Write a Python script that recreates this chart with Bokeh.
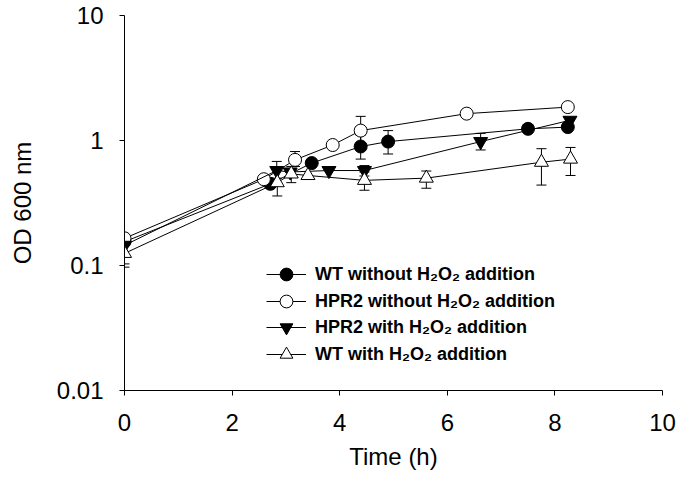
from bokeh.plotting import figure
from bokeh.models import (ColumnDataSource, Whisker, TeeHead, Legend, LegendItem,
                          FixedTicker, NumeralTickFormatter, Range1d)
from bokeh.embed import file_html
from bokeh.resources import INLINE

# ---- data (time in h, OD600) ----
labels = ["WT without H\u2082O\u2082 addition",
          "HPR2 without H\u2082O\u2082 addition",
          "HPR2 with H\u2082O\u2082 addition",
          "WT with H\u2082O\u2082 addition"]

t_wt_wo = [0, 2.71, 3.48, 4.39, 4.90, 7.50, 8.24]
od_wt_wo = [0.155, 0.45, 0.66, 0.895, 0.98, 1.24, 1.28]
lo_wt_wo = [0.155, 0.45, 0.66, 0.71, 0.78, 1.24, 1.28]
hi_wt_wo = [0.155, 0.45, 0.66, 1.10, 1.20, 1.24, 1.28]

t_hpr_wo = [0, 2.59, 3.17, 3.87, 4.39, 6.36, 8.24]
od_hpr_wo = [0.165, 0.49, 0.70, 0.92, 1.20, 1.64, 1.85]
lo_hpr_wo = [0.165, 0.49, 0.62, 0.92, 0.92, 1.64, 1.85]
hi_hpr_wo = [0.165, 0.49, 0.816, 0.92, 1.56, 1.64, 1.85]

t_hpr_w = [0, 2.83, 3.08, 3.80, 4.46, 6.62, 8.28]
od_hpr_w = [0.145, 0.575, 0.56, 0.575, 0.575, 0.98, 1.45]
lo_hpr_w = [0.103, 0.50, 0.56, 0.575, 0.52, 0.84, 1.45]
hi_hpr_w = [0.145, 0.68, 0.56, 0.575, 0.63, 1.14, 1.45]

t_wt_w = [0, 2.84, 3.10, 3.41, 4.46, 5.61, 7.75, 8.29]
od_wt_w = [0.125, 0.46, 0.54, 0.525, 0.48, 0.50, 0.67, 0.71]
lo_wt_w = [0.097, 0.36, 0.46, 0.525, 0.40, 0.415, 0.44, 0.525]
hi_wt_w = [0.15, 0.58, 0.62, 0.525, 0.56, 0.57, 0.86, 0.88]

x_ticks = [0, 2, 4, 6, 8, 10]
y_ticks = [0.01, 0.1, 1, 10]

FONT = "Liberation Sans"

p = figure(width=677, height=477, x_range=Range1d(0, 10), y_range=Range1d(0.01, 10),
           y_axis_type="log", output_backend="svg", toolbar_location=None,
           min_border_left=124, min_border_right=15, min_border_top=15, min_border_bottom=87)

p.outline_line_color = None
p.xgrid.visible = False
p.ygrid.visible = False
p.background_fill_color = "white"
p.border_fill_color = "white"

p.xaxis.ticker = FixedTicker(ticks=x_ticks, minor_ticks=[])
p.yaxis.ticker = FixedTicker(ticks=y_ticks, minor_ticks=[])
p.yaxis.formatter = NumeralTickFormatter(format="0.[00]")
p.xaxis.axis_label = "Time (h)"
p.yaxis.axis_label = "OD 600 nm"

for ax in (p.xaxis[0], p.yaxis[0]):
    ax.axis_line_color = "black"
    ax.axis_line_width = 1
    ax.major_tick_line_color = "black"
    ax.major_tick_in = 0
    ax.major_tick_out = 5
    ax.minor_tick_line_color = None
    ax.major_label_text_font = FONT
    ax.major_label_text_font_size = "24px"
    ax.major_label_text_color = "black"
    ax.axis_label_text_font = FONT
    ax.axis_label_text_font_size = "24px"
    ax.axis_label_text_font_style = "normal"
    ax.axis_label_text_color = "black"

p.xaxis.major_label_standoff = 18
p.xaxis.axis_label_standoff = 9
p.yaxis.major_label_standoff = 16
p.yaxis.axis_label_standoff = 18

series = [
    (t_wt_wo, od_wt_wo, lo_wt_wo, hi_wt_wo, "circle", "black", 13),
    (t_hpr_wo, od_hpr_wo, lo_hpr_wo, hi_hpr_wo, "circle", "white", 13),
    (t_hpr_w, od_hpr_w, lo_hpr_w, hi_hpr_w, "inverted_triangle", "black", 14),
    (t_wt_w, od_wt_w, lo_wt_w, hi_wt_w, "triangle", "white", 14),
]

# one single-entry legend per row, so rows sit as close as in the reference
legend_offsets = [100, 73, 47, 20]

for (t, od, lo, hi, marker, fill, size), lab, off in zip(series, labels, legend_offsets):
    src = ColumnDataSource(dict(t=t, od=od, lo=lo, hi=hi))
    w = Whisker(source=src, base="t", lower="lo", upper="hi", dimension="height",
                line_color="black", line_width=1, level="underlay",
                upper_head=TeeHead(size=10, line_color="black", line_width=1),
                lower_head=TeeHead(size=10, line_color="black", line_width=1))
    p.add_layout(w)
    ln = p.line("t", "od", source=src, line_color="black", line_width=1)
    sc = p.scatter("t", "od", source=src, marker=marker, size=size,
                   fill_color=fill, line_color="black", line_width=1)
    lg = Legend(items=[LegendItem(label=lab, renderers=[ln, sc])],
                location=(142, off), orientation="vertical",
                border_line_color=None, background_fill_alpha=0,
                padding=0, margin=0, spacing=0, glyph_width=40, glyph_height=32,
                label_standoff=9, label_height=20,
                label_text_font=FONT, label_text_font_style="bold",
                label_text_font_size="18px", label_text_color="black")
    p.add_layout(lg)

open("out.html", "w").write(file_html(p, INLINE))
